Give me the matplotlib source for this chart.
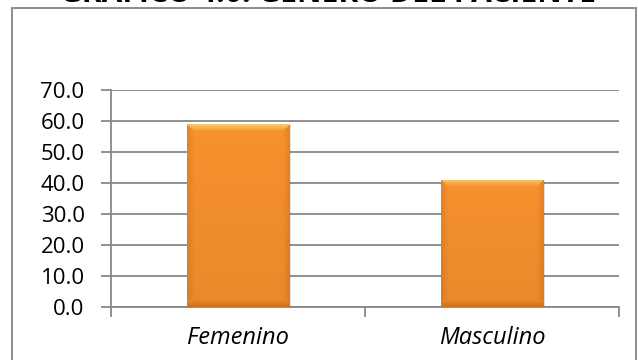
import numpy as np
import matplotlib
matplotlib.use("Agg")
import matplotlib.pyplot as plt
from matplotlib.patches import Rectangle
from matplotlib.colors import to_rgb

categories = ["Femenino", "Masculino"]
values = [59.0, 41.0]
yticks = [0, 10, 20, 30, 40, 50, 60, 70]
title = "GRÁFICO 4.0: GÉNERO DEL PACIENTE"

W, H = 638, 360
FONT = "Open Sans"
fig = plt.figure(figsize=(W / 100, H / 100), dpi=100)
fig.patch.set_facecolor("white")

# outer chart frame
fig.add_artist(Rectangle((12 / W, -0.05), 624 / W, (352 / H) + 0.05,
                         transform=fig.transFigure, fill=False,
                         edgecolor="#8c8c8c", lw=1.4))

fig.text(327.5 / W, 357.5 / H, title, ha="center", va="baseline",
         fontsize=21.6, fontweight="bold", family=FONT, color="black")

ax = fig.add_axes([111 / W, 53 / H, 508 / W, 217 / H])
ax.set_xlim(-0.5, 1.5)
ax.set_ylim(0, 70)

grid_c = "#888888"
for s in ["top", "right"]:
    ax.spines[s].set_visible(False)
for s in ["left", "bottom"]:
    ax.spines[s].set_color(grid_c)
    ax.spines[s].set_linewidth(1.3)
ax.yaxis.grid(True, color=grid_c, lw=1.3)
ax.set_axisbelow(True)

ax.set_yticks(yticks)
ax.set_yticklabels([f"{v:.1f}" for v in yticks], family=FONT, fontsize=16)
ax.tick_params(axis="y", length=7, width=1.3, color=grid_c, pad=12)
ax.set_xticks([-0.5, 0.5, 1.5])
ax.set_xticklabels([])
ax.tick_params(axis="x", length=7, width=1.3, color=grid_c)
ax.set_xticks([0, 1], minor=True)
ax.set_xticklabels(categories, minor=True, family=FONT, fontsize=17,
                   style="italic")
ax.tick_params(axis="x", which="minor", length=0, pad=14)

bars = ax.bar(range(len(values)), values, width=0.405, color="#F7922D",
              edgecolor="none", zorder=2)

# bevelled orange fill for each bar
base = np.array(to_rgb("#F7922D"))
light = np.array(to_rgb("#FFD67A"))
dark = np.array(to_rgb("#C8661A"))
fig.canvas.draw()
for b in bars:
    x0, y0 = b.get_x(), b.get_y()
    w, h = b.get_width(), b.get_height()
    p0 = ax.transData.transform((x0, y0))
    p1 = ax.transData.transform((x0 + w, y0 + h))
    pw, ph = int(round(p1[0] - p0[0])), int(round(p1[1] - p0[1]))
    img = np.tile(base, (ph, pw, 1)).astype(float)
    yy, xx = np.mgrid[0:ph, 0:pw]
    bev = 7.0
    dt = yy / bev
    dl = xx / bev
    dr = (pw - 1 - xx) / bev
    db = (ph - 1 - yy) / bev
    top = (dt <= np.minimum.reduce([dl, dr, db])) & (dt < 1)
    side = ((dl < 1) | (dr < 1)) & ~top
    bot = (db < 1) & ~top
    t = np.clip(1 - dt, 0, 1)[..., None]
    img = np.where(top[..., None], base * (1 - 0.75 * t) + light * 0.75 * t, img)
    s = np.clip(1 - np.minimum(dl, dr), 0, 1)[..., None]
    img = np.where(side[..., None], base * (1 - 0.35 * s) + dark * 0.35 * s, img)
    bb = np.clip(1 - db, 0, 1)[..., None]
    img = np.where(bot[..., None], base * (1 - 0.6 * bb) + dark * 0.6 * bb, img)
    # gentle vertical shading
    g = (yy / max(ph - 1, 1))[..., None]
    img = img * (1 - 0.06 * g)
    im = ax.imshow(np.clip(img, 0, 1), extent=(x0, x0 + w, y0, y0 + h),
                   origin="upper", aspect="auto", zorder=3,
                   interpolation="bilinear")
    im.set_clip_path(b)
    # soft drop shadow
    ax.add_patch(Rectangle((x0 + 0.006, y0), w, h - 0.3, facecolor="#000000",
                           alpha=0.12, edgecolor="none", zorder=1.9))

ax.set_xlim(-0.5, 1.5)
ax.set_ylim(0, 70)
fig.savefig("out.png", dpi=100)
